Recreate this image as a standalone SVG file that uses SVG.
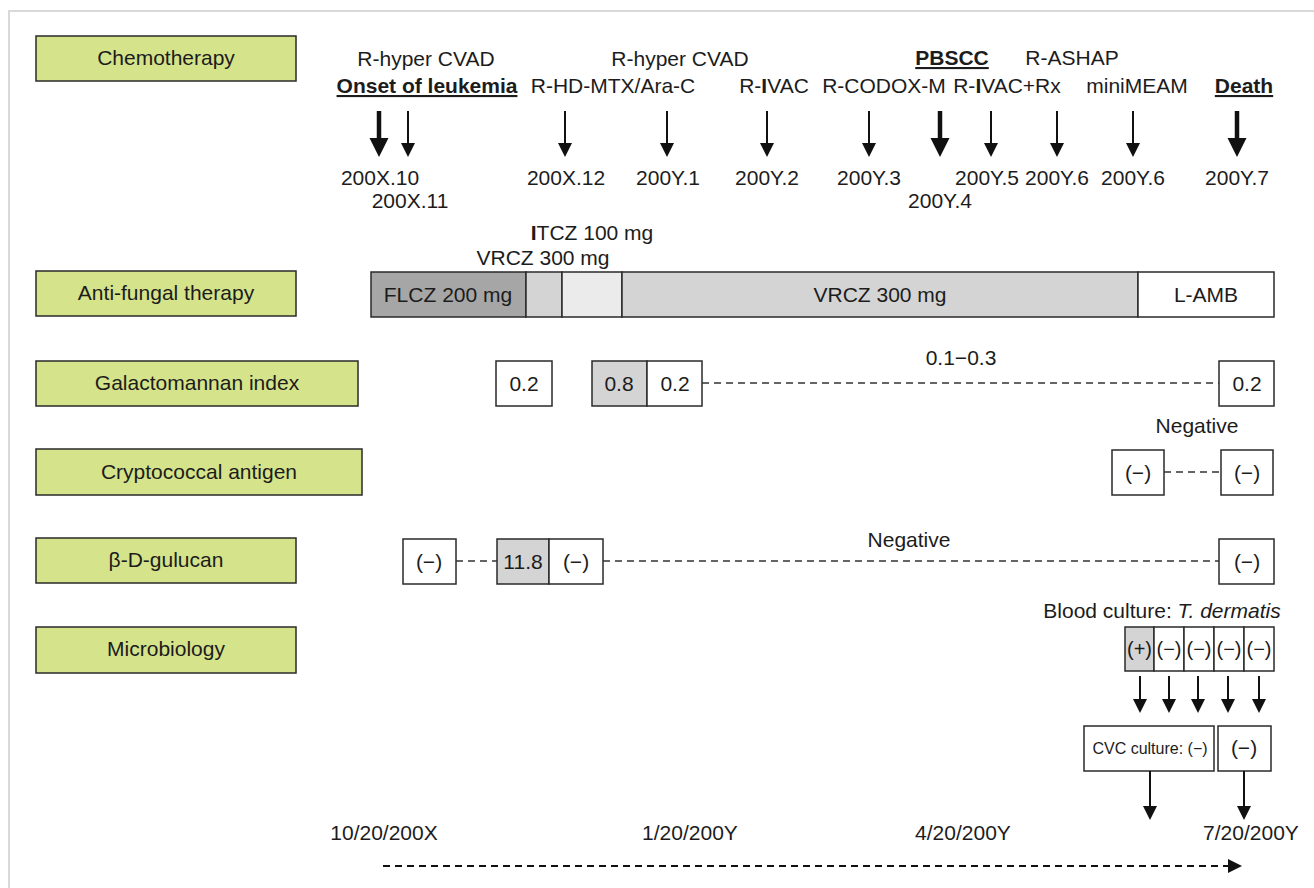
<svg xmlns="http://www.w3.org/2000/svg" width="1314" height="888" viewBox="0 0 1314 888">
<style>
text{font-family:"Liberation Sans",Arial,sans-serif;font-size:21px;fill:#1c1c1c;text-anchor:middle}
.b{font-weight:bold;text-decoration:underline}
.lbl{fill:#d5e38b;stroke:#2a2a2a;stroke-width:1.5}
.box{fill:#fff;stroke:#2a2a2a;stroke-width:1.5}
.gbox{fill:#d4d4d4;stroke:#2a2a2a;stroke-width:1.5}
.dash{stroke:#333;stroke-width:1.4;stroke-dasharray:7 5;fill:none}
.thin{stroke:#111;stroke-width:2}
.thick{stroke:#111;stroke-width:4.5}
.head{fill:#111}
.sm{font-size:16px}
.xs{font-size:20px}
</style>
<rect x="9" y="11" width="1320" height="890" fill="#fff" stroke="#d9d9d9" stroke-width="2"/>

<g id="label-chemotherapy"><rect class="lbl" x="36" y="36" width="260" height="45"/><text x="166" y="65">Chemotherapy</text></g>
<g id="label-antifungal"><rect class="lbl" x="36" y="271" width="260" height="45"/><text x="166" y="300">Anti-fungal therapy</text></g>
<g id="label-galactomannan"><rect class="lbl" x="36" y="361" width="322" height="45"/><text x="197" y="390">Galactomannan index</text></g>
<g id="label-cryptococcal"><rect class="lbl" x="36" y="449" width="326" height="46"/><text x="199" y="479">Cryptococcal antigen</text></g>
<g id="label-glucan"><rect class="lbl" x="36" y="538" width="260" height="45"/><text x="166" y="567">β-D-gulucan</text></g>
<g id="label-microbiology"><rect class="lbl" x="36" y="627" width="260" height="46"/><text x="166" y="656">Microbiology</text></g>

<g id="chemo-labels">
<text x="426" y="66">R-hyper CVAD</text>
<text class="b" x="427" y="93">Onset of leukemia</text>
<text x="680" y="66">R-hyper CVAD</text>
<text x="613" y="93">R-HD-MTX/Ara-C</text>
<text x="774" y="93">R-<tspan font-weight="bold">I</tspan>VAC</text>
<text class="b" x="952" y="65">PBSCC</text>
<text x="1072" y="65">R-ASHAP</text>
<text x="884" y="93">R-CODOX-M</text>
<text x="1007" y="93">R-<tspan font-weight="bold">I</tspan>VAC+Rx</text>
<text x="1137" y="93">miniMEAM</text>
<text class="b" x="1244" y="93">Death</text>
</g>
<g id="chemo-dates">
<text x="380" y="185">200X.10</text>
<text x="410" y="208">200X.11</text>
<text x="566" y="185">200X.12</text>
<text x="668" y="185">200Y.1</text>
<text x="767" y="185">200Y.2</text>
<text x="869" y="185">200Y.3</text>
<text x="940" y="208">200Y.4</text>
<text x="987" y="185">200Y.5</text>
<text x="1057" y="185">200Y.6</text>
<text x="1133" y="185">200Y.6</text>
<text x="1237" y="185">200Y.7</text>
</g>

<g id="antifungal-bar">
<text x="592" y="240"><tspan font-weight="bold">I</tspan>TCZ 100 mg</text>
<text x="543" y="265">VRCZ 300 mg</text>
<rect x="371" y="272" width="155" height="45" fill="#a6a6a6" stroke="#2a2a2a" stroke-width="1.5"/>
<rect x="526" y="272" width="36" height="45" fill="#d4d4d4" stroke="#2a2a2a" stroke-width="1.5"/>
<rect x="562" y="272" width="60" height="45" fill="#ebebeb" stroke="#2a2a2a" stroke-width="1.5"/>
<rect x="622" y="272" width="516" height="45" fill="#d4d4d4" stroke="#2a2a2a" stroke-width="1.5"/>
<rect x="1138" y="272" width="136" height="45" fill="#fff" stroke="#2a2a2a" stroke-width="1.5"/>
<text x="448" y="302">FLCZ 200 mg</text>
<text x="880" y="302">VRCZ 300 mg</text>
<text x="1206" y="302">L-AMB</text>
</g>

<g id="galactomannan-values">
<rect class="box" x="496" y="361" width="56" height="45"/><text x="524" y="391">0.2</text>
<rect class="gbox" x="592" y="361" width="55" height="45"/><text x="619" y="391">0.8</text>
<rect class="box" x="647" y="361" width="55" height="45"/><text x="675" y="391">0.2</text>
<text x="961" y="365">0.1−0.3</text>
<rect class="box" x="1219" y="361" width="55" height="45"/><text x="1247" y="391">0.2</text>
</g>

<g id="cryptococcal-values">
<text x="1197" y="433">Negative</text>
<rect class="box" x="1112" y="450" width="52" height="45"/><text x="1138" y="480">(−)</text>
<rect class="box" x="1221" y="450" width="52" height="45"/><text x="1247" y="480">(−)</text>
</g>

<g id="glucan-values">
<rect class="box" x="403" y="539" width="53" height="45"/><text x="429" y="569">(−)</text>
<rect class="gbox" x="497" y="539" width="52" height="45"/><text x="523" y="569">11.8</text>
<rect class="box" x="549" y="539" width="54" height="45"/><text x="576" y="569">(−)</text>
<text x="909" y="547">Negative</text>
<rect class="box" x="1219" y="539" width="55" height="45"/><text x="1247" y="569">(−)</text>
</g>

<g id="microbiology-values">
<text x="1162" y="618">Blood culture: <tspan font-style="italic">T. dermatis</tspan></text>
<rect class="gbox" x="1125" y="627" width="29" height="44"/><text class="xs" x="1139.5" y="656">(+)</text>
<rect class="box" x="1154" y="627" width="30" height="44"/><text class="xs" x="1169" y="656">(−)</text>
<rect class="box" x="1184" y="627" width="30" height="44"/><text class="xs" x="1199" y="656">(−)</text>
<rect class="box" x="1214" y="627" width="30" height="44"/><text class="xs" x="1229" y="656">(−)</text>
<rect class="box" x="1244" y="627" width="30" height="44"/><text class="xs" x="1259" y="656">(−)</text>
<rect class="box" x="1084" y="726" width="130" height="45"/><text class="sm" x="1150" y="754">CVC culture: (−)</text>
<rect class="box" x="1218" y="726" width="53" height="45"/><text x="1244" y="755">(−)</text>
</g>

<g id="timeline-labels">
<text x="384" y="840">10/20/200X</text>
<text x="690" y="840">1/20/200Y</text>
<text x="963" y="840">4/20/200Y</text>
<text x="1251" y="840">7/20/200Y</text>
</g>

<g id="connectors">
<line class="thick" x1="379" y1="111" x2="379" y2="140"/><polygon class="head" points="369.5,138 388.5,138 379,157"/>
<line class="thin" x1="408" y1="111" x2="408" y2="144"/><polygon class="head" points="401,143 415,143 408,157"/>
<line class="thin" x1="565" y1="111" x2="565" y2="144"/><polygon class="head" points="558,143 572,143 565,157"/>
<line class="thin" x1="667" y1="111" x2="667" y2="144"/><polygon class="head" points="660,143 674,143 667,157"/>
<line class="thin" x1="767" y1="111" x2="767" y2="144"/><polygon class="head" points="760,143 774,143 767,157"/>
<line class="thin" x1="869" y1="111" x2="869" y2="144"/><polygon class="head" points="862,143 876,143 869,157"/>
<line class="thick" x1="940" y1="111" x2="940" y2="140"/><polygon class="head" points="930.5,138 949.5,138 940,157"/>
<line class="thin" x1="991" y1="111" x2="991" y2="144"/><polygon class="head" points="984,143 998,143 991,157"/>
<line class="thin" x1="1057" y1="111" x2="1057" y2="144"/><polygon class="head" points="1050,143 1064,143 1057,157"/>
<line class="thin" x1="1133" y1="111" x2="1133" y2="144"/><polygon class="head" points="1126,143 1140,143 1133,157"/>
<line class="thick" x1="1237" y1="111" x2="1237" y2="140"/><polygon class="head" points="1227.5,138 1246.5,138 1237,157"/>
<line class="dash" x1="702" y1="383" x2="1219" y2="383"/>
<line class="dash" x1="1164" y1="472" x2="1221" y2="472"/>
<line class="dash" x1="456" y1="561" x2="497" y2="561"/>
<line class="dash" x1="603" y1="561" x2="1219" y2="561"/>
<line class="thin" x1="1140" y1="676" x2="1140" y2="700"/><polygon class="head" points="1133,699 1147,699 1140,713"/>
<line class="thin" x1="1169" y1="676" x2="1169" y2="700"/><polygon class="head" points="1162,699 1176,699 1169,713"/>
<line class="thin" x1="1198" y1="676" x2="1198" y2="700"/><polygon class="head" points="1191,699 1205,699 1198,713"/>
<line class="thin" x1="1228" y1="676" x2="1228" y2="700"/><polygon class="head" points="1221,699 1235,699 1228,713"/>
<line class="thin" x1="1259" y1="676" x2="1259" y2="700"/><polygon class="head" points="1252,699 1266,699 1259,713"/>
<line class="thin" x1="1150" y1="771" x2="1150" y2="807"/><polygon class="head" points="1143,806 1157,806 1150,820"/>
<line class="thin" x1="1244" y1="771" x2="1244" y2="807"/><polygon class="head" points="1237,806 1251,806 1244,820"/>
<line x1="383" y1="866" x2="1228" y2="866" stroke="#111" stroke-width="2" stroke-dasharray="7 5"/>
<polygon class="head" points="1228,859 1242,866 1228,873"/>
</g>
</svg>
